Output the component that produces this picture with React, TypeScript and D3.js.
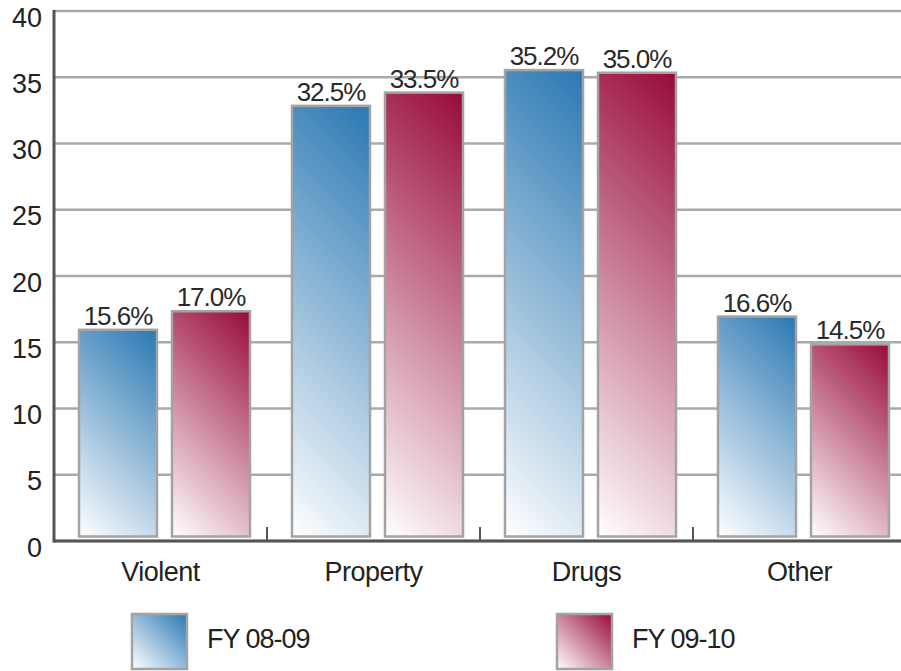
import React from "react";
import * as d3 from "d3";

const categories = ["Violent", "Property", "Drugs", "Other"];
const seriesNames = ["FY 08-09", "FY 09-10"];
const fy0809 = [15.6, 32.5, 35.2, 16.6];
const fy0910 = [17.0, 33.5, 35.0, 14.5];
const yTicks = [0, 5, 10, 15, 20, 25, 30, 35, 40];
const seriesColors = ["#2a78b3", "#980a3b"];

const W = 901;
const H = 671;
const font = "'Liberation Sans', Arial, sans-serif";

export default function App() {
  const y = d3.scaleLinear().domain([0, 40]).range([541, 11]);
  const x0 = d3.scaleBand<string>().domain(categories).range([54, 906]);
  const x1 = d3
    .scaleBand<string>()
    .domain(seriesNames)
    .range([25, 196])
    .paddingInner(15 / 93);
  const barLift = 4.5;
  const values = [fy0809, fy0910];

  const bars: any[] = [];
  categories.forEach((c, ci) => {
    seriesNames.forEach((s, si) => {
      const v = values[si][ci];
      const bx = (x0(c) as number) + (x1(s) as number);
      const bw = x1.bandwidth();
      const top = y(v) - barLift;
      const bottom = y(0) - barLift;
      const h = bottom - top;
      bars.push({ id: `g${ci}${si}`, bx, bw, top, h, v, si });
    });
  });

  const legendX = [132, 557];

  return (
    <svg
      width={W}
      height={H}
      style={{ position: "absolute", left: 0, top: 0, background: "#fff" }}
      fontFamily={font}
    >
      <defs>
        {bars.map((b) => {
          const d = (b.bw + b.h) / 2;
          return (
            <linearGradient
              key={b.id}
              id={b.id}
              gradientUnits="userSpaceOnUse"
              x1={b.bx + b.bw}
              y1={b.top}
              x2={b.bx + b.bw - d}
              y2={b.top + d}
            >
              <stop offset="0" stopColor={seriesColors[b.si]} />
              <stop offset="1" stopColor="#ffffff" />
            </linearGradient>
          );
        })}
        {seriesNames.map((s, si) => (
          <linearGradient key={s} id={`lg${si}`} x1="1" y1="0" x2="0" y2="1">
            <stop offset="0" stopColor={seriesColors[si]} />
            <stop offset="1" stopColor="#ffffff" />
          </linearGradient>
        ))}
      </defs>

      {/* gridlines */}
      {yTicks.map((t) => (
        <line key={t} x1={54} x2={W} y1={y(t)} y2={y(t)} stroke="#aaaaaa" strokeWidth={2.5} />
      ))}

      {/* tick labels */}
      {yTicks.map((t) => (
        <text
          key={"l" + t}
          x={42}
          y={y(t) + 6.5}
          textAnchor="end"
          dominantBaseline="central"
          fontSize={27}
          fill="#222"
        >
          {t}
        </text>
      ))}

      {/* bars */}
      {bars.map((b) => (
        <g key={"b" + b.id}>
          <rect
            x={b.bx}
            y={b.top}
            width={b.bw}
            height={b.h}
            fill={`url(#${b.id})`}
            stroke="#a3a3a3"
            strokeWidth={2.5}
          />
          <text
            x={b.bx + b.bw / 2}
            y={b.top - 5}
            textAnchor="middle"
            fontSize={26}
            letterSpacing={-1}
            fill="#2a2a2a"
          >
            {b.v.toFixed(1)}%
          </text>
        </g>
      ))}

      {/* axes */}
      <line x1={54} x2={54} y1={y(40) - 1} y2={y(0) + 1.5} stroke="#555" strokeWidth={3} />
      <line x1={53} x2={W} y1={y(0)} y2={y(0)} stroke="#555" strokeWidth={3} />
      {categories.slice(1).map((c) => (
        <line
          key={"t" + c}
          x1={x0(c) as number}
          x2={x0(c) as number}
          y1={y(0) - 14}
          y2={y(0)}
          stroke="#555"
          strokeWidth={2}
        />
      ))}

      {/* category labels */}
      {categories.map((c) => (
        <text
          key={"c" + c}
          x={(x0(c) as number) + x0.bandwidth() / 2}
          y={581}
          textAnchor="middle"
          fontSize={27}
          letterSpacing={-0.5}
          fill="#222"
        >
          {c}
        </text>
      ))}

      {/* legend */}
      {seriesNames.map((s, si) => (
        <g key={"lg" + s}>
          <rect
            x={legendX[si]}
            y={614}
            width={55}
            height={55}
            fill={`url(#lg${si})`}
            stroke="#a3a3a3"
            strokeWidth={2.5}
          />
          <text
            x={legendX[si] + 75}
            y={648}
            fontSize={27}
            letterSpacing={-1}
            fill="#222"
          >
            {s}
          </text>
        </g>
      ))}
    </svg>
  );
}
